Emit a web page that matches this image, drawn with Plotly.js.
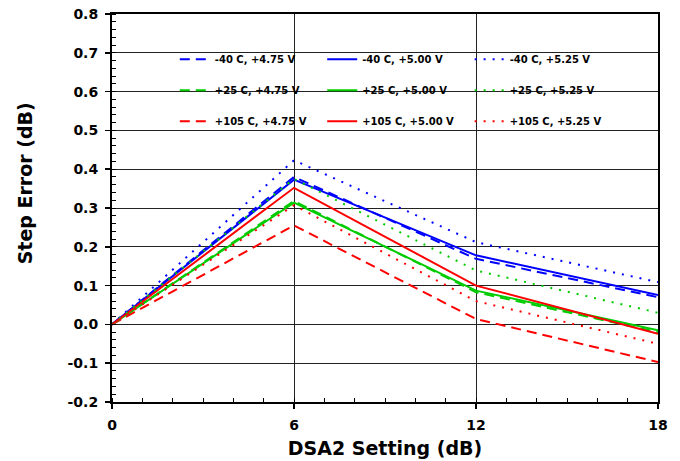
<!DOCTYPE html>
<html>
<head>
<meta charset="utf-8">
<script src="https://cdn.plot.ly/plotly-3.0.1.min.js"></script>
<style>html,body{margin:0;padding:0;background:#fff;}#chart{width:680px;height:461px;}</style>
</head>
<body>
<div id="chart"></div>
<script>
// DSA2 setting (dB)
const dsa2Setting = [0, 6, 12, 18];
const xTickLabels = ['0', '6', '12', '18'];
const yTickVals = [-0.2, -0.1, 0, 0.1, 0.2, 0.3, 0.4, 0.5, 0.6, 0.7, 0.8];
const yTickLabels = ['-0.2', '-0.1', '0.0', '0.1', '0.2', '0.3', '0.4', '0.5', '0.6', '0.7', '0.8'];
// Step error (dB)
const m40_475 = [0, 0.380, 0.169, 0.070];
const m40_500 = [0, 0.373, 0.178, 0.076];
const m40_525 = [0, 0.423, 0.212, 0.109];
const p25_475 = [0, 0.318, 0.083, -0.020];
const p25_500 = [0, 0.314, 0.087, -0.015];
const p25_525 = [0, 0.375, 0.139, 0.030];
const p105_475 = [0, 0.255, 0.014, -0.097];
const p105_500 = [0, 0.352, 0.100, -0.024];
const p105_525 = [0, 0.307, 0.060, -0.050];

const names = {
  m40_475: '-40 C, +4.75 V', m40_500: '-40 C, +5.00 V', m40_525: '-40 C, +5.25 V',
  p25_475: '+25 C, +4.75 V', p25_500: '+25 C, +5.00 V', p25_525: '+25 C, +5.25 V',
  p105_475: '+105 C, +4.75 V', p105_500: '+105 C, +5.00 V', p105_525: '+105 C, +5.25 V'
};

const BLUE = '#0000ff', GREEN = '#00cc00', RED = '#ff0000';
const DASH = '10px,6px', DOT = '2px,7px';

function tr(y, name, color, dash, legend, group) {
  return {
    x: dsa2Setting, y: y, name: name, type: 'scatter', mode: 'lines',
    line: {color: color, width: 2, dash: dash},
    legend: legend, legendgroup: group, showlegend: true
  };
}

const data = [
  tr(m40_475, names.m40_475, BLUE, DASH, 'legend', 'a1'),
  tr(p25_475, names.p25_475, GREEN, DASH, 'legend', 'a2'),
  tr(p105_475, names.p105_475, RED, DASH, 'legend', 'a3'),
  tr(m40_500, names.m40_500, BLUE, 'solid', 'legend2', 'b1'),
  tr(p25_500, names.p25_500, GREEN, 'solid', 'legend2', 'b2'),
  tr(p105_500, names.p105_500, RED, 'solid', 'legend2', 'b3'),
  tr(m40_525, names.m40_525, BLUE, DOT, 'legend3', 'c1'),
  tr(p25_525, names.p25_525, GREEN, DOT, 'legend3', 'c2'),
  tr(p105_525, names.p105_525, RED, DOT, 'legend3', 'c3')
];

const FONT = 'DejaVu Sans, Verdana, sans-serif';
const legFont = {family: FONT, size: 10, color: '#000', weight: 'bold'};
function leg(x) {
  return {
    x: x, y: 0.921, xanchor: 'left', yanchor: 'top', orientation: 'v',
    bgcolor: 'rgba(0,0,0,0)', borderwidth: 0, font: legFont,
    tracegroupgap: 12, itemwidth: 30, traceorder: 'grouped'
  };
}

const layout = {
  width: 680, height: 461,
  margin: {l: 112, r: 22, t: 14, b: 59},
  paper_bgcolor: '#fff', plot_bgcolor: '#fff',
  font: {family: FONT, color: '#000'},
  xaxis: {
    range: [0, 18], tickmode: 'array', tickvals: dsa2Setting, ticktext: xTickLabels,
    showgrid: true, gridcolor: '#222', gridwidth: 1,
    showline: true, linecolor: '#000', linewidth: 2, mirror: true,
    ticks: 'outside', ticklen: 5, tickwidth: 1.5, tickcolor: '#000',
    ticklabelstandoff: 4,
    minor: {dtick: 1, ticks: 'inside', ticklen: 4, tickwidth: 1, tickcolor: '#000', showgrid: false},
    zeroline: false,
    tickfont: {family: FONT, size: 14, weight: 'bold'},
    title: {text: 'DSA2 Setting (dB)', font: {family: FONT, size: 19, weight: 'bold'}, standoff: 10}
  },
  yaxis: {
    range: [-0.2, 0.8], tickmode: 'array', tickvals: yTickVals, ticktext: yTickLabels,
    showgrid: true, gridcolor: '#222', gridwidth: 1,
    showline: true, linecolor: '#000', linewidth: 2, mirror: true,
    ticks: 'outside', ticklen: 5, tickwidth: 1.5, tickcolor: '#000',
    ticklabelstandoff: 4,
    minor: {dtick: 0.02, ticks: 'inside', ticklen: 4, tickwidth: 1, tickcolor: '#000', showgrid: false},
    zeroline: false,
    tickfont: {family: FONT, size: 14, weight: 'bold'}
  },
  annotations: [{
    text: 'Step Error (dB)', xref: 'paper', yref: 'paper',
    x: -0.159, y: 0.564, xanchor: 'center', yanchor: 'middle',
    textangle: -90, showarrow: false,
    font: {family: FONT, size: 19, weight: 'bold', color: '#000'}
  }],
  shapes: [{
    type: 'rect', xref: 'paper', yref: 'paper', layer: 'between',
    x0: 0.093, x1: 0.912, y0: 0.686, y1: 0.925,
    fillcolor: '#fff', line: {width: 0}
  }],
  showlegend: true,
  legend: leg(0.115),
  legend2: leg(0.385),
  legend3: leg(0.655)
};

Plotly.newPlot('chart', data, layout, {displayModeBar: false, staticPlot: true});
</script>
</body>
</html>
